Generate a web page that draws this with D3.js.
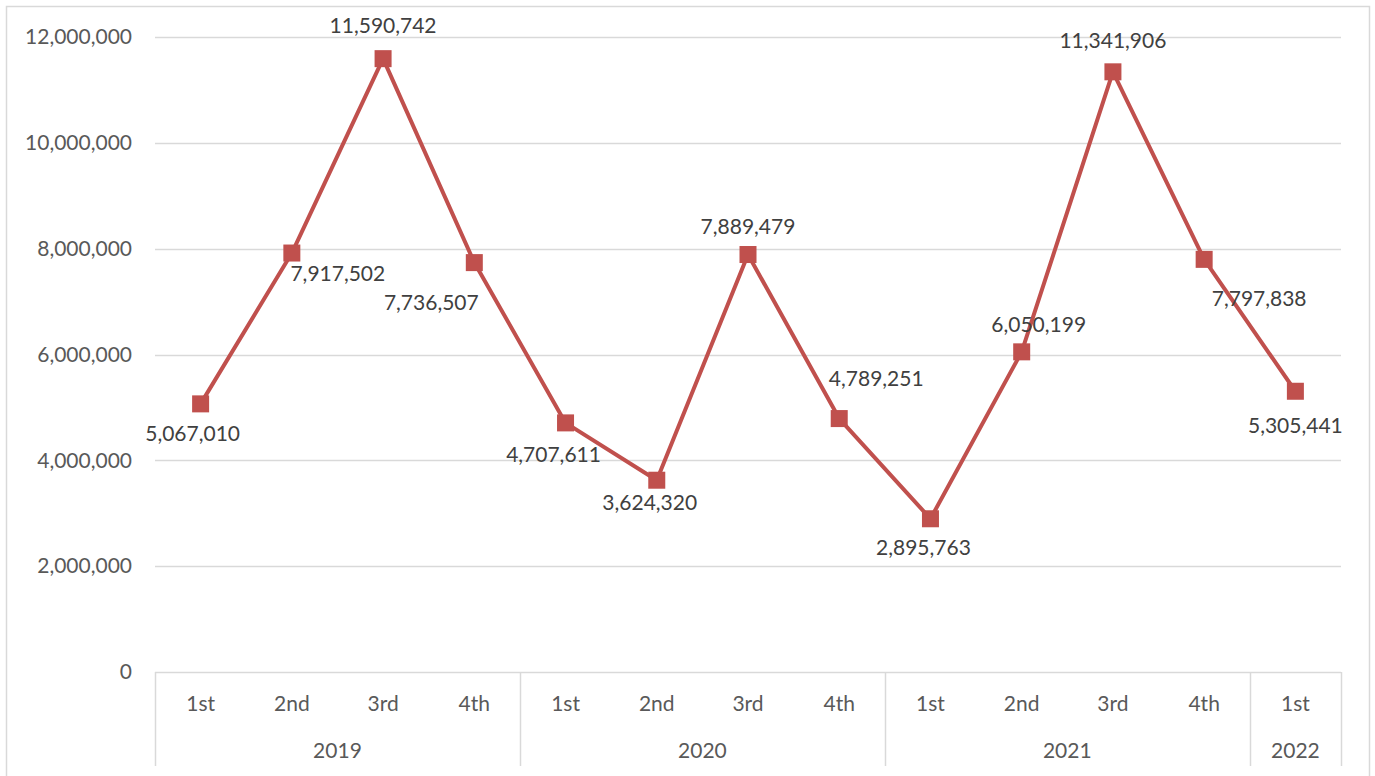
<!DOCTYPE html>
<html><head><meta charset="utf-8">
<script src="https://cdn.jsdelivr.net/npm/d3@7"></script>
<style>
html,body{margin:0;padding:0;background:#fff;}
svg{display:block;font-family:Lato,"Open Sans",sans-serif;}
</style></head>
<body>
<svg id="chart" width="1375" height="776"></svg>
<script>
const quarters = ["1st","2nd","3rd","4th","1st","2nd","3rd","4th","1st","2nd","3rd","4th","1st"];
const years = ["2019","2019","2019","2019","2020","2020","2020","2020","2021","2021","2021","2021","2022"];
const values = [5067010,7917502,11590742,7736507,4707611,3624320,7889479,4789251,2895763,6050199,11341906,7797838,5305441];
const yTicks = [0,2000000,4000000,6000000,8000000,10000000,12000000];
// label placement offsets relative to each point (layout only)
const labelDx = [-8,46,0,-43,-12,-7,0,37,-7,17,0,55,0];
const labelDy = [37,28,-26,47,39,30,-21,-33,36,-20,-24,47,42];

(function(){
const svg = d3.select("#chart");
const pLeft = 155, pRight = 1341, pTop = 37, pBottom = 672;
const textColor = "#595959", gridColor = "#d9d9d9", lineColor = "#C0504D";

// outer border
svg.append("rect").attr("x",6.5).attr("y",6.5).attr("width",1363).attr("height",790)
  .attr("fill","none").attr("stroke",gridColor).attr("stroke-width",1.5);

const x = d3.scaleBand().domain(d3.range(values.length)).range([pLeft,pRight]).padding(0);
const y = d3.scaleLinear().domain([0,12000000]).range([pBottom,pTop]);

// gridlines
svg.append("g").selectAll("line").data(yTicks.filter(d=>d>0)).join("line")
  .attr("x1",pLeft).attr("x2",pRight).attr("y1",d=>Math.round(y(d))+0.5).attr("y2",d=>Math.round(y(d))+0.5)
  .attr("stroke",gridColor).attr("stroke-width",1.5);

// y axis labels
const fmt = d3.format(",");
const yAxis = d3.axisLeft(y).tickValues(yTicks).tickFormat(fmt).tickSize(0).tickPadding(23);
const yg = svg.append("g").attr("transform",`translate(${pLeft},0)`).call(yAxis);
yg.select(".domain").remove();
yg.selectAll("text").attr("fill",textColor).attr("font-size",21).attr("font-family","Lato, 'Open Sans', sans-serif");

// category axis line
svg.append("line").attr("x1",pLeft).attr("x2",pRight).attr("y1",pBottom+0.5).attr("y2",pBottom+0.5)
  .attr("stroke",gridColor).attr("stroke-width",1.5);

// year groups
const groups = [];
years.forEach((yr,i)=>{
  if(!groups.length || groups[groups.length-1].year!==yr) groups.push({year:yr,start:i,end:i});
  else groups[groups.length-1].end=i;
});
const seps = [pLeft].concat(groups.map(g=>x(g.end)+x.bandwidth()));
svg.append("g").selectAll("line").data(seps).join("line")
  .attr("x1",d=>Math.round(d)+0.5).attr("x2",d=>Math.round(d)+0.5).attr("y1",pBottom).attr("y2",766)
  .attr("stroke",gridColor).attr("stroke-width",1.5);

// quarter labels
svg.append("g").selectAll("text").data(quarters).join("text")
  .attr("x",(d,i)=>x(i)+x.bandwidth()/2).attr("y",711).attr("text-anchor","middle")
  .attr("fill",textColor).attr("font-size",21).text(d=>d);
// year labels
svg.append("g").selectAll("text").data(groups).join("text")
  .attr("x",g=>(x(g.start)+x(g.end)+x.bandwidth())/2).attr("y",758).attr("text-anchor","middle")
  .attr("fill",textColor).attr("font-size",21).text(g=>g.year);

// line
const line = d3.line().x((d,i)=>x(i)+x.bandwidth()/2).y(d=>y(d));
svg.append("path").datum(values).attr("d",line).attr("fill","none")
  .attr("stroke",lineColor).attr("stroke-width",4).attr("stroke-linejoin","round");

// markers
const ms = 17;
svg.append("g").selectAll("rect").data(values).join("rect")
  .attr("x",(d,i)=>x(i)+x.bandwidth()/2-ms/2).attr("y",d=>y(d)-ms/2)
  .attr("width",ms).attr("height",ms).attr("fill",lineColor);

// data labels
svg.append("g").selectAll("text").data(values).join("text")
  .attr("x",(d,i)=>x(i)+x.bandwidth()/2+labelDx[i]).attr("y",(d,i)=>y(d)+labelDy[i])
  .attr("text-anchor","middle").attr("fill","#404040").attr("font-size",21).text(d=>fmt(d));
})();
</script>
</body></html>
